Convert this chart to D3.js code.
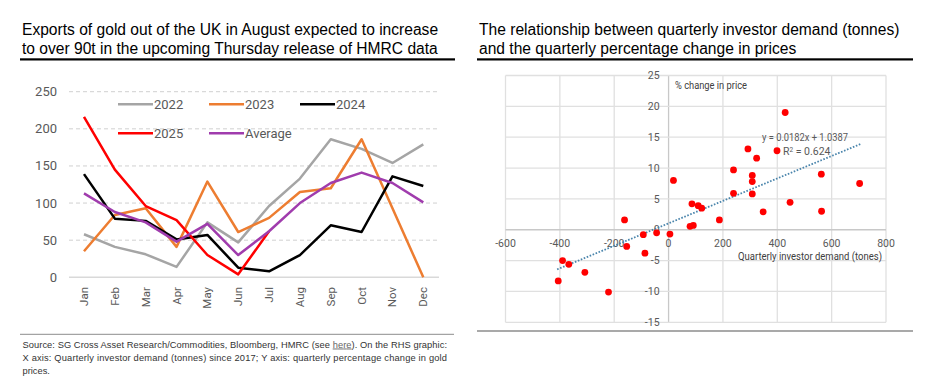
<!DOCTYPE html>
<html><head><meta charset="utf-8">
<script src="https://cdn.jsdelivr.net/npm/d3@7"></script>
<style>
html,body{margin:0;padding:0;background:#fff;}
svg{display:block;}
</style></head>
<body>
<svg id="c" width="933" height="383"></svg>
<script>
// ---------- Left chart data ----------
const months = ["Jan","Feb","Mar","Apr","May","Jun","Jul","Aug","Sep","Oct","Nov","Dec"];
const exports2022 = [58, 41, 31, 14, 74, 47, 96, 133, 186, 173, 154, 179];
const exports2023 = [35, 84, 93, 41, 129, 61, 80, 115, 120, 186, 93, 0];
const exports2024 = [139, 79, 76, 51, 57, 13, 8, 30, 70, 61, 136, 123];
const exports2025 = [216, 145, 96, 77, 30, 4, 62];
const exportsAvg  = [113, 88, 74, 48, 72, 30, 62, 100, 127, 141, 127, 101];
const leftYTicks = [0, 50, 100, 150, 200, 250];
const seriesNames = ["2022", "2023", "2024", "2025", "Average"];
const seriesColors = ["#a5a5a5", "#ed7d31", "#000000", "#ff0000", "#a03cad"];

// ---------- Right chart data ----------
const investorDemand = [-406, -390, -367, -308, -221, -162, -154, -93, -87, -44, 5, 18, 79, 91, 86, 109, 122, 187, 239, 239, 292, 308, 308, 308, 324, 348, 399, 429, 447, 562, 563, 703];
const priceChange    = [-8.3, -5.0, -5.6, -6.9, -10.1, 1.6, -2.7, -0.8, -3.8, -0.5, -0.7, 8.0, 0.55, 0.7, 4.2, 3.9, 3.5, 1.6, 9.7, 5.9, 13.1, 8.8, 7.8, 5.8, 11.6, 2.9, 12.8, 19.0, 4.45, 9.0, 3.0, 7.5];
const scatterXTicks = [-600, -400, -200, 0, 200, 400, 600, 800];
const scatterYTicks = [-15, -10, -5, 0, 5, 10, 15, 20, 25];
const trendSlope = 0.0182, trendIntercept = 1.0387, trendR2 = 0.624;
const trendRange = [-410, 706];

// ---------- Text ----------
const leftTitle = ["Exports of gold out of the UK in August expected to increase", "to over 90t in the upcoming Thursday release of HMRC data"];
const rightTitle = ["The relationship between quarterly investor demand (tonnes)", "and the quarterly percentage change in prices"];

const svg = d3.select("#c");
const chartFont = "Roboto, 'Noto Sans', sans-serif";
const titleFont = "'Liberation Sans', Arial, sans-serif";
const gray = "#595959";

// Titles
function title(lines, x) {
  const t = svg.append("text").attr("font-family", titleFont).attr("font-size", 15.6).attr("fill", "#000");
  lines.forEach((l, i) => t.append("tspan").attr("x", x).attr("y", 35 + i * 18.5).text(l));
}
title(leftTitle, 22);
title(rightTitle, 479);
svg.append("rect").attr("x", 20).attr("y", 58.3).attr("width", 435).attr("height", 2.2).attr("fill", "#000");
svg.append("rect").attr("x", 477).attr("y", 58.3).attr("width", 436).attr("height", 2.2).attr("fill", "#000");

// ---------- Left line chart ----------
const x = d3.scalePoint().domain(months).range([84, 423.3]);
const y = d3.scaleLinear().domain([0, 250]).range([277.3, 91.7]);
const gL = svg.append("g");
gL.selectAll("line.grid").data(leftYTicks.filter(d => d > 0)).join("line")
  .attr("x1", 69).attr("x2", 439).attr("y1", d => y(d)).attr("y2", d => y(d))
  .attr("stroke", "#d0d0d0").attr("stroke-width", 1).attr("stroke-dasharray", "4,3");
gL.append("line").attr("x1", 69).attr("x2", 439).attr("y1", y(0)).attr("y2", y(0))
  .attr("stroke", "#d9d9d9").attr("stroke-width", 1.5);
gL.selectAll("text.yt").data(leftYTicks).join("text")
  .attr("x", 57).attr("y", d => y(d)).attr("dy", "0.35em").attr("text-anchor", "end")
  .attr("font-family", chartFont).attr("font-size", 13).attr("fill", gray).text(d => d);
gL.selectAll("text.xt").data(months).join("text")
  .attr("transform", d => `translate(${x(d) + 4},287) rotate(-90)`)
  .attr("text-anchor", "end").attr("font-family", chartFont).attr("font-size", 11.5).attr("fill", gray).text(d => d);

const allSeries = [exports2022, exports2023, exports2024, exports2025, exportsAvg];
const line = d3.line().x((d, i) => x(months[i])).y(d => y(d));
allSeries.forEach((s, k) => {
  gL.append("path").attr("d", line(s)).attr("fill", "none")
    .attr("stroke", seriesColors[k]).attr("stroke-width", 2.5).attr("stroke-linejoin", "round");
});
// Legend
const legendPos = [[118, 104.3], [209, 104.3], [300, 104.3], [118, 133.3], [209, 133.3]];
seriesNames.forEach((n, k) => {
  const [lx, ly] = legendPos[k];
  gL.append("line").attr("x1", lx).attr("x2", lx + 35).attr("y1", ly).attr("y2", ly)
    .attr("stroke", seriesColors[k]).attr("stroke-width", 2.5);
  gL.append("text").attr("x", lx + 36).attr("y", ly).attr("dy", "0.36em")
    .attr("font-family", chartFont).attr("font-size", 13).attr("fill", gray).text(n);
});

// Source
svg.append("line").attr("x1", 20).attr("x2", 454).attr("y1", 334.3).attr("y2", 334.3)
  .attr("stroke", "#8c8c8c").attr("stroke-width", 1);
const src = svg.append("g").attr("font-family", titleFont).attr("font-size", 9.3).attr("fill", "#333");
const s1 = src.append("text").attr("x", 22.5).attr("y", 347.5).attr("textLength", 424.5).attr("lengthAdjust", "spacing");
s1.append("tspan").text("Source: SG Cross Asset Research/Commodities, Bloomberg, HMRC (see ");
s1.append("tspan").attr("text-decoration", "underline").attr("fill", "#666").text("here");
s1.append("tspan").text("). On the RHS graphic:");
src.append("text").attr("x", 22.5).attr("y", 360.5).attr("textLength", 424.5).attr("lengthAdjust", "spacing")
  .text("X axis: Quarterly investor demand (tonnes) since 2017; Y axis: quarterly percentage change in gold");
src.append("text").attr("x", 22.5).attr("y", 373.5).text("prices.");

// ---------- Right scatter chart ----------
const sx = d3.scaleLinear().domain([-600, 800]).range([505.5, 886]);
const sy = d3.scaleLinear().domain([-15, 25]).range([322.3, 75.5]);
const gR = svg.append("g");
gR.selectAll("line.vg").data(scatterXTicks).join("line")
  .attr("x1", d => sx(d)).attr("x2", d => sx(d)).attr("y1", sy(25)).attr("y2", sy(-15))
  .attr("stroke", d => d === 0 ? "#c8c8c8" : "#e0e0e0").attr("stroke-width", 1.3);
gR.selectAll("line.hg").data(scatterYTicks).join("line")
  .attr("x1", sx(-600)).attr("x2", sx(800)).attr("y1", d => sy(d)).attr("y2", d => sy(d))
  .attr("stroke", d => d === 0 ? "#c8c8c8" : "#e0e0e0").attr("stroke-width", 1.3);
gR.selectAll("text.syt").data(scatterYTicks).join("text")
  .attr("x", sx(0) - 9).attr("y", d => sy(d)).attr("dy", "0.35em").attr("text-anchor", "end")
  .attr("font-family", chartFont).attr("font-size", 10.5).attr("fill", gray).text(d => d);
gR.selectAll("text.sxt").data(scatterXTicks).join("text")
  .attr("x", d => sx(d)).attr("y", sy(0) + 14).attr("dy", "0.35em").attr("text-anchor", "middle")
  .attr("font-family", chartFont).attr("font-size", 10.5).attr("fill", gray).text(d => d);
gR.append("text").attr("x", 675).attr("y", 85).attr("dy", "0.35em").attr("textLength", 72).attr("lengthAdjust", "spacingAndGlyphs")
  .attr("font-family", chartFont).attr("font-size", 10).attr("fill", "#404040").text("% change in price");
gR.append("text").attr("x", 738).attr("y", 256.5).attr("dy", "0.35em").attr("textLength", 144).attr("lengthAdjust", "spacingAndGlyphs")
  .attr("font-family", chartFont).attr("font-size", 10).attr("fill", "#404040").text("Quarterly investor demand (tones)");

// Trend line
gR.append("line")
  .attr("x1", sx(trendRange[0])).attr("y1", sy(trendSlope * trendRange[0] + trendIntercept))
  .attr("x2", sx(trendRange[1])).attr("y2", sy(trendSlope * trendRange[1] + trendIntercept))
  .attr("stroke", "#4a85ac").attr("stroke-width", 1.8).attr("stroke-dasharray", "1.6,1.6");

// Points
gR.selectAll("circle").data(investorDemand).join("circle")
  .attr("cx", d => sx(d)).attr("cy", (d, i) => sy(priceChange[i])).attr("r", 3.4).attr("fill", "#ff0000");

// Trend labels
gR.append("text").attr("x", 762).attr("y", 137).attr("dy", "0.35em").attr("textLength", 86).attr("lengthAdjust", "spacingAndGlyphs")
  .attr("font-family", chartFont).attr("font-size", 10.5).attr("fill", gray)
  .text(`y = ${trendSlope}x + ${trendIntercept}`);
const r2 = gR.append("text").attr("x", 783).attr("y", 151).attr("dy", "0.35em")
  .attr("font-family", chartFont).attr("font-size", 10.5).attr("fill", gray);
r2.append("tspan").text("R");
r2.append("tspan").attr("font-size", 6.5).attr("dy", "-0.45em").text("2");
r2.append("tspan").attr("dy", "0.3em").text(" = " + trendR2);

svg.append("line").attr("x1", 477).attr("x2", 913).attr("y1", 331).attr("y2", 331)
  .attr("stroke", "#8c8c8c").attr("stroke-width", 1.5);
</script>
</body></html>
